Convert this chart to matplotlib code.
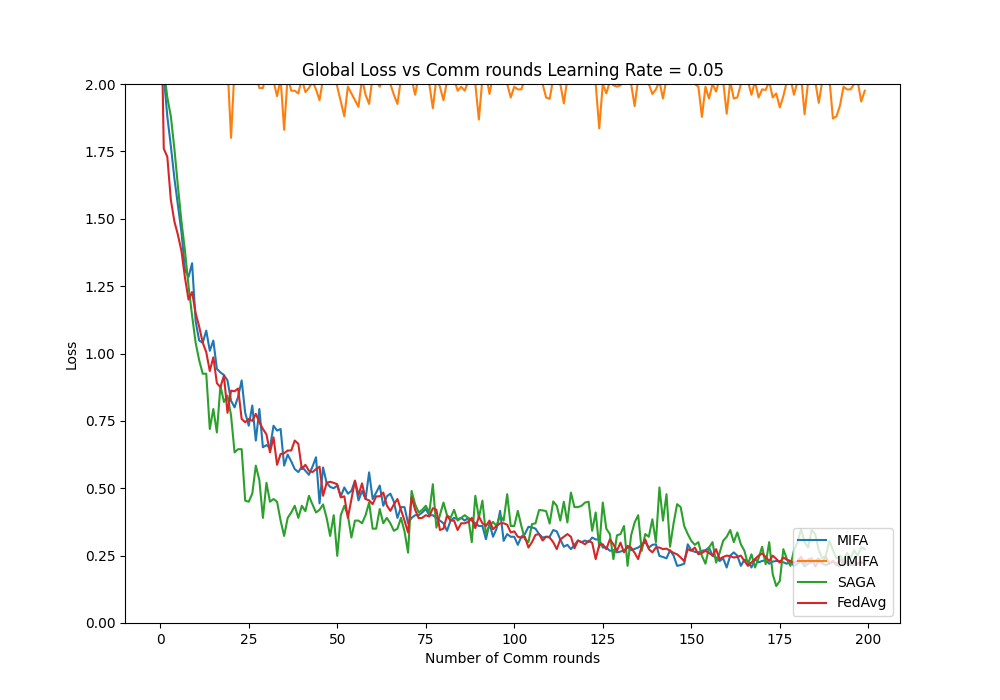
"""Global loss vs communication rounds for four federated methods (lr = 0.05)."""
from __future__ import annotations

import matplotlib

matplotlib.use("Agg")
import matplotlib.pyplot as plt

rounds = list(range(200))

mifa = [
    2.30, 2.03, 1.88, 1.77, 1.65, 1.55, 1.45, 1.31, 1.284, 1.335,
    1.12, 1.048, 1.04, 1.085, 1.01, 1.048, 0.943, 0.93, 0.92, 0.90,
    0.825, 0.80, 0.84, 0.90, 0.78, 0.732, 0.807, 0.677, 0.794, 0.652,
    0.66, 0.65, 0.732, 0.714, 0.72, 0.584, 0.625, 0.60, 0.571, 0.56,
    0.58, 0.565, 0.55, 0.58, 0.615, 0.444, 0.577, 0.52, 0.505, 0.50,
    0.51, 0.47, 0.503, 0.48, 0.49, 0.528, 0.455, 0.49, 0.46, 0.559,
    0.46, 0.484, 0.51, 0.435, 0.47, 0.48, 0.45, 0.39, 0.43, 0.43,
    0.37, 0.39, 0.40, 0.40, 0.41, 0.423, 0.40, 0.40, 0.39, 0.38,
    0.37, 0.342, 0.38, 0.39, 0.385, 0.39, 0.38, 0.39, 0.38, 0.37,
    0.36, 0.36, 0.311, 0.37, 0.32, 0.35, 0.416, 0.305, 0.33, 0.32,
    0.32, 0.29, 0.32, 0.33, 0.357, 0.355, 0.35, 0.33, 0.317, 0.32,
    0.32, 0.345, 0.34, 0.31, 0.283, 0.29, 0.274, 0.29, 0.306, 0.30,
    0.306, 0.30, 0.317, 0.31, 0.31, 0.28, 0.28, 0.268, 0.27, 0.262,
    0.265, 0.27, 0.28, 0.27, 0.275, 0.28, 0.29, 0.30, 0.28, 0.29,
    0.292, 0.249, 0.245, 0.24, 0.27, 0.25, 0.212, 0.215, 0.22, 0.292,
    0.27, 0.264, 0.262, 0.268, 0.27, 0.28, 0.25, 0.243, 0.23, 0.24,
    0.206, 0.25, 0.262, 0.25, 0.212, 0.235, 0.23, 0.206, 0.237, 0.225,
    0.23, 0.233, 0.22, 0.228, 0.23, 0.23, 0.225, 0.22, 0.23, 0.212,
    0.22, 0.23, 0.21, 0.22, 0.225, 0.23, 0.24, 0.22, 0.215, 0.22,
    0.23, 0.22, 0.21, 0.225, 0.23, 0.22, 0.215, 0.22, 0.225, 0.22,
]

umifa = [
    2.90, 2.70, 2.55, 2.45, 2.38, 2.32, 2.28, 2.25, 2.22, 2.20,
    2.18, 2.16, 2.15, 2.13, 2.12, 2.11, 2.10, 2.09, 2.08, 2.07,
    1.80, 2.06, 2.05, 2.07, 2.04, 2.06, 2.05, 2.03, 1.985, 1.985,
    2.04, 2.03, 2.01, 1.955, 2.02, 1.83, 2.03, 1.975, 1.975, 1.965,
    2.02, 1.97, 1.985, 2.01, 1.98, 1.94, 2.02, 2.05, 2.03, 2.04,
    1.99, 1.935, 1.88, 1.99, 1.965, 1.94, 1.915, 2.02, 1.96, 1.926,
    2.03, 2.01, 1.99, 2.02, 2.04, 2.00, 1.96, 1.926, 2.02, 2.05,
    2.04, 2.02, 1.96, 2.03, 2.05, 2.03, 2.00, 1.91, 2.02, 1.99,
    1.94, 2.01, 2.03, 2.02, 1.975, 1.99, 1.975, 2.01, 2.03, 2.00,
    1.868, 2.02, 2.04, 1.963, 2.03, 2.05, 2.04, 2.02, 2.00, 1.95,
    1.99, 1.98, 1.98, 2.02, 2.04, 2.05, 2.03, 2.04, 2.00, 1.95,
    1.945, 2.02, 2.03, 2.00, 1.928, 2.02, 2.04, 2.05, 2.03, 2.04,
    2.05, 2.04, 2.02, 2.00, 1.835, 2.00, 1.965, 2.01, 1.995, 1.99,
    1.995, 2.02, 2.04, 2.00, 1.918, 2.02, 2.04, 2.03, 2.00, 1.963,
    1.98, 2.01, 1.946, 2.02, 2.04, 2.05, 2.03, 2.02, 2.00, 2.03,
    2.02, 2.00, 1.99, 1.878, 1.99, 1.946, 2.00, 1.972, 2.02, 2.01,
    1.89, 2.01, 1.946, 1.95, 2.00, 2.02, 2.01, 1.96, 2.01, 1.95,
    1.98, 1.978, 2.01, 1.95, 1.965, 1.913, 1.955, 2.01, 2.02, 1.96,
    2.01, 2.03, 1.888, 2.01, 2.03, 2.01, 1.93, 2.01, 2.03, 2.02,
    1.872, 1.88, 1.92, 1.99, 1.98, 1.98, 2.00, 2.01, 1.935, 1.975,
]

saga = [
    2.30, 2.06, 1.95, 1.88, 1.76, 1.62, 1.49, 1.38, 1.25, 1.14,
    1.04, 0.975, 0.925, 0.925, 0.72, 0.794, 0.707, 0.88, 0.82, 0.844,
    0.77, 0.633, 0.645, 0.645, 0.454, 0.45, 0.48, 0.584, 0.53, 0.39,
    0.52, 0.45, 0.46, 0.45, 0.38, 0.323, 0.39, 0.41, 0.435, 0.39,
    0.435, 0.415, 0.472, 0.44, 0.41, 0.42, 0.44, 0.39, 0.323, 0.40,
    0.249, 0.40, 0.435, 0.40, 0.317, 0.38, 0.38, 0.37, 0.40, 0.447,
    0.35, 0.35, 0.423, 0.37, 0.39, 0.37, 0.342, 0.35, 0.39, 0.34,
    0.261, 0.49, 0.44, 0.41, 0.42, 0.435, 0.41, 0.515, 0.354, 0.40,
    0.447, 0.40, 0.39, 0.42, 0.38, 0.39, 0.40, 0.39, 0.30, 0.472,
    0.39, 0.454, 0.33, 0.36, 0.375, 0.36, 0.40, 0.38, 0.478, 0.36,
    0.36, 0.416, 0.36, 0.311, 0.30, 0.367, 0.37, 0.419, 0.418, 0.415,
    0.369, 0.451, 0.435, 0.38, 0.45, 0.373, 0.484, 0.43, 0.43, 0.435,
    0.447, 0.45, 0.342, 0.41, 0.28, 0.447, 0.35, 0.33, 0.237, 0.325,
    0.33, 0.36, 0.212, 0.325, 0.373, 0.40, 0.268, 0.33, 0.32, 0.385,
    0.30, 0.503, 0.38, 0.478, 0.283, 0.37, 0.441, 0.43, 0.36, 0.33,
    0.305, 0.29, 0.30, 0.249, 0.22, 0.28, 0.30, 0.224, 0.26, 0.305,
    0.32, 0.345, 0.30, 0.336, 0.292, 0.268, 0.218, 0.255, 0.206, 0.24,
    0.283, 0.218, 0.30, 0.181, 0.137, 0.156, 0.274, 0.237, 0.212, 0.27,
    0.30, 0.348, 0.30, 0.28, 0.345, 0.33, 0.27, 0.24, 0.25, 0.305,
    0.27, 0.24, 0.25, 0.23, 0.26, 0.24, 0.27, 0.25, 0.28, 0.275,
]

fedavg = [
    2.50, 1.76, 1.73, 1.57, 1.49, 1.44, 1.38, 1.28, 1.20, 1.228,
    1.15, 1.10, 1.04, 1.005, 0.935, 0.986, 0.89, 0.875, 0.918, 0.78,
    0.862, 0.86, 0.87, 0.757, 0.745, 0.757, 0.75, 0.776, 0.745, 0.72,
    0.70, 0.633, 0.689, 0.587, 0.627, 0.63, 0.64, 0.64, 0.677, 0.665,
    0.571, 0.587, 0.565, 0.56, 0.571, 0.58, 0.472, 0.52, 0.524, 0.52,
    0.515, 0.466, 0.47, 0.39, 0.46, 0.528, 0.475, 0.518, 0.46, 0.455,
    0.441, 0.47, 0.47, 0.484, 0.436, 0.416, 0.44, 0.46, 0.42, 0.38,
    0.336, 0.466, 0.42, 0.389, 0.39, 0.40, 0.395, 0.426, 0.42, 0.345,
    0.35, 0.398, 0.38, 0.38, 0.345, 0.37, 0.37, 0.375, 0.39, 0.352,
    0.395, 0.37, 0.36, 0.38, 0.348, 0.36, 0.37, 0.37, 0.365, 0.336,
    0.34, 0.32, 0.317, 0.32, 0.28, 0.30, 0.327, 0.33, 0.306, 0.32,
    0.317, 0.30, 0.274, 0.31, 0.32, 0.33, 0.32, 0.277, 0.306, 0.30,
    0.292, 0.305, 0.298, 0.237, 0.29, 0.292, 0.274, 0.31, 0.292, 0.268,
    0.298, 0.262, 0.286, 0.28, 0.26, 0.237, 0.286, 0.31, 0.274, 0.262,
    0.28, 0.28, 0.274, 0.276, 0.268, 0.26, 0.255, 0.243, 0.23, 0.274,
    0.268, 0.28, 0.255, 0.26, 0.268, 0.26, 0.25, 0.274, 0.237, 0.245,
    0.25, 0.248, 0.243, 0.245, 0.25, 0.23, 0.212, 0.225, 0.237, 0.25,
    0.258, 0.245, 0.23, 0.25, 0.238, 0.224, 0.243, 0.235, 0.23, 0.224,
    0.23, 0.245, 0.22, 0.235, 0.24, 0.21, 0.23, 0.225, 0.245, 0.22,
    0.23, 0.215, 0.235, 0.22, 0.225, 0.215, 0.23, 0.22, 0.225, 0.22,
]


def main() -> None:
    fig, ax = plt.subplots(figsize=(10, 7), dpi=100)
    ax.plot(rounds, mifa, label="MIFA")
    ax.plot(rounds, umifa, label="UMIFA")
    ax.plot(rounds, saga, label="SAGA")
    ax.plot(rounds, fedavg, label="FedAvg")
    ax.set_ylim(0, 2)
    ax.set_xlabel("Number of Comm rounds")
    ax.set_ylabel("Loss")
    ax.set_title("Global Loss vs Comm rounds Learning Rate = 0.05")
    ax.legend(loc="lower right")
    fig.savefig("out.png", dpi=100)
    plt.close(fig)


if __name__ == "__main__":
    main()
